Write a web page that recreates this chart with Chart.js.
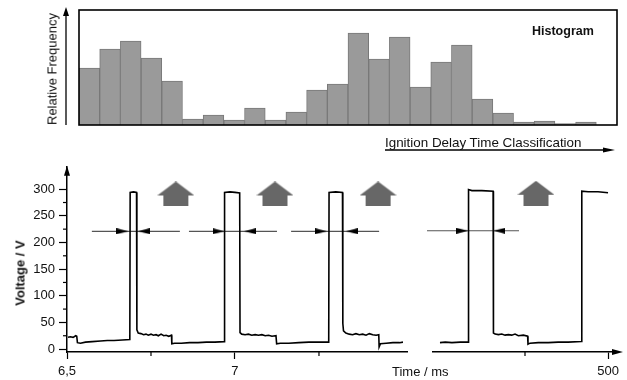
<!DOCTYPE html>
<html lang="en">
<head>
<meta charset="UTF-8">
<title>Ignition Delay Time Classification</title>
<script src="https://cdn.jsdelivr.net/npm/chart.js"></script>
<style>
  body { margin: 0; background: #fff; font-family: "Liberation Sans", Arial, sans-serif; }
  .wrap { position: relative; width: 627px; height: 380px; overflow: hidden; }
  .box { position: absolute; }
  .lbl { position: absolute; font-size: 13px; color: #111; white-space: nowrap; line-height: 1; }
  .rot { transform: translate(-50%, -50%) rotate(-90deg); }
</style>
</head>
<body>
<div class="wrap">
  <div class="box" style="left:0;top:0"><canvas id="hist" width="627" height="160"></canvas></div>
  <div class="box" style="left:0;top:155px"><canvas id="left" width="420" height="225"></canvas></div>
  <div class="box" style="left:420px;top:155px"><canvas id="right" width="207" height="225"></canvas></div>

  <div class="lbl rot" style="left:52px;top:69px">Relative Frequency</div>
  <div class="lbl" style="left:532px;top:25px;font-weight:bold;font-size:12.5px">Histogram</div>
  <div class="lbl" style="left:385px;top:136px;font-size:13.4px">Ignition Delay Time Classification</div>
  <div class="lbl rot" style="left:20px;top:273px;font-weight:bold">Voltage / V</div>
  <div class="lbl" style="left:392px;top:365px">Time / ms</div>
</div>

<script>
  // histogram (relative frequency per class, arbitrary units)
  const relFreq = [57, 76, 84, 67, 44, 6, 10, 5, 17, 5, 13, 35, 41, 92, 66, 88, 38, 63, 80, 26, 12, 3, 4, 1.5, 3, 0];
  const histClasses = relFreq.map((_, i) => i + 1);

  // voltage trace, left part of the broken time axis (ms, V)
  const leftTime = [6.503, 6.510, 6.518, 6.526, 6.529, 6.531, 6.540, 6.555, 6.575, 6.600, 6.620, 6.640, 6.665, 6.687,
    6.688, 6.698, 6.707, 6.708, 6.712, 6.720, 6.728, 6.735, 6.742, 6.750, 6.757, 6.765, 6.772, 6.780, 6.788, 6.795,
    6.803, 6.811, 6.812, 6.820, 6.840, 6.865, 6.890, 6.915, 6.940, 6.968, 6.969, 6.985, 7.000, 7.014, 7.015, 7.020,
    7.030, 7.040, 7.050, 7.060, 7.070, 7.080, 7.090, 7.100, 7.110, 7.122, 7.124, 7.135, 7.160, 7.190, 7.220, 7.250,
    7.279, 7.280, 7.300, 7.320, 7.321, 7.323, 7.330, 7.340, 7.350, 7.360, 7.370, 7.380, 7.390, 7.400, 7.410, 7.420,
    7.428, 7.429, 7.433, 7.450, 7.470, 7.490, 7.500];
  const leftVolt = [22, 23, 22, 25, 24, 12, 11, 13, 14, 15, 16, 16, 17, 18,
    294, 295, 294, 36, 30, 29, 27, 28, 26, 28, 26, 27, 25, 28, 25, 26,
    24, 26, 10, 11, 11, 12, 12, 13, 13, 14, 294, 295, 294, 293, 31, 28,
    27, 28, 26, 27, 26, 27, 25, 26, 24, 25, 10, 11, 11, 12, 13, 13,
    13, 294, 295, 294, 48, 34, 30, 28, 27, 29, 27, 28, 26, 29, 27, 26,
    27, 4, 10, 11, 12, 12, 13];

  // voltage trace, right part (around 500 ms)
  const rightTime = [499.494, 499.510, 499.530, 499.555, 499.579, 499.580, 499.590, 499.620, 499.654, 499.655,
    499.660, 499.670, 499.680, 499.690, 499.700, 499.710, 499.720, 499.730, 499.745, 499.758, 499.759, 499.765,
    499.790, 499.820, 499.850, 499.880, 499.920, 499.921, 499.940, 499.970, 500.000];
  const rightVolt = [12, 13, 12, 13, 13, 298, 296, 296, 295, 30,
    28, 27, 28, 26, 27, 26, 28, 25, 26, 24, 9, 11,
    12, 12, 13, 13, 14, 295, 294, 294, 292];

  // delay markers: line from/to, inward arrowheads at the pulse edges
  const markLevel = 221;
  const markFrom = [6.574, 6.863, 7.167];
  const markTo = [6.836, 7.125, 7.429];
  const headIn = [6.665, 6.951, 7.256];
  const headOut = [6.729, 7.045, 7.348];
  const markFromR = [499.455], markToR = [499.732], headInR = [499.561], headOutR = [499.673];

  // classification arrows
  const upLevel = 291;
  const upLeft = [6.824, 7.119, 7.426];
  const upRight = [499.783];

  const yTicks = [0, 50, 100, 150, 200, 250, 300];
  const yMinor = [25, 75, 125, 175, 225, 275];
  const xTicksLeft = [6.5, 7], xLabelsLeft = ['6,5', '7'], xMinorLeft = [6.75, 7.25];
  const xTicksRight = [500], xLabelsRight = ['500'], xMinorRight = [499.75];

  Chart.defaults.font.family = "'Liberation Sans', Arial, sans-serif";
  Chart.defaults.font.size = 13;
  Chart.defaults.color = '#111';

  function tri(ctx, x, y, dir, len, half) {
    ctx.beginPath();
    if (dir === 'up') { ctx.moveTo(x, y); ctx.lineTo(x - half, y + len); ctx.lineTo(x + half, y + len); }
    else { ctx.moveTo(x, y); ctx.lineTo(x - len, y - half); ctx.lineTo(x - len, y + half); }
    ctx.closePath();
    ctx.fill();
  }

  // small arrowhead image (points right)
  const headImg = document.createElement('canvas');
  headImg.width = 12; headImg.height = 6;
  (function () {
    const c = headImg.getContext('2d');
    c.fillStyle = '#000';
    c.beginPath(); c.moveTo(0, 0); c.lineTo(12, 3); c.lineTo(0, 6); c.closePath(); c.fill();
  })();

  // block arrow pointing up
  const blockImg = document.createElement('canvas');
  blockImg.width = 37; blockImg.height = 25;
  (function () {
    const c = blockImg.getContext('2d');
    c.fillStyle = '#676767';
    c.beginPath();
    c.moveTo(0, 14); c.lineTo(18.5, 0); c.lineTo(37, 14); c.lineTo(31, 14); c.lineTo(31, 25);
    c.lineTo(6, 25); c.lineTo(6, 14); c.closePath(); c.fill();
  })();

  const histFrame = {
    id: 'histFrame',
    afterDatasetsDraw(chart) {
      const { ctx, chartArea: a } = chart;
      ctx.save();
      ctx.strokeStyle = '#000'; ctx.fillStyle = '#000';
      ctx.lineWidth = 1.6;
      ctx.strokeRect(a.left, a.top, a.width, a.height);
      ctx.lineWidth = 1.3;
      const ax = a.left - 13;
      ctx.beginPath(); ctx.moveTo(ax, a.bottom); ctx.lineTo(ax, a.top + 2); ctx.stroke();
      tri(ctx, ax, a.top - 3, 'up', 9, 3);
      ctx.beginPath(); ctx.moveTo(385, 150); ctx.lineTo(606, 150); ctx.stroke();
      tri(ctx, 615, 150, 'right', 12, 2.5);
      ctx.restore();
    }
  };

  const axisExtras = {
    id: 'axisExtras',
    afterDraw(chart, args, opts) {
      const { ctx, chartArea: a, scales } = chart;
      ctx.save();
      ctx.strokeStyle = '#000'; ctx.fillStyle = '#000'; ctx.lineWidth = 1.2;
      (opts.xMinor || []).forEach(v => {
        const px = scales.x.getPixelForValue(v);
        ctx.beginPath(); ctx.moveTo(px, a.bottom); ctx.lineTo(px, a.bottom + 4); ctx.stroke();
      });
      (opts.yMinor || []).forEach(v => {
        const py = scales.y.getPixelForValue(v);
        ctx.beginPath(); ctx.moveTo(a.left - 4, py); ctx.lineTo(a.left, py); ctx.stroke();
      });
      if (opts.yArrow) tri(ctx, a.left, a.top - 1, 'up', 10, 3);
      if (opts.xArrow) tri(ctx, a.right + 7, a.bottom, 'right', 11, 3);
      ctx.restore();
    }
  };

  new Chart(document.getElementById('hist'), {
    type: 'bar',
    data: {
      labels: histClasses,
      datasets: [{
        data: relFreq,
        backgroundColor: '#9a9a9a',
        borderColor: '#787878',
        borderWidth: 1,
        categoryPercentage: 1,
        barPercentage: 1
      }]
    },
    options: {
      responsive: false,
      animation: false,
      layout: { padding: { left: 79, right: 10, top: 10, bottom: 35 } },
      plugins: { legend: { display: false }, tooltip: { enabled: false } },
      scales: {
        x: { display: false },
        y: { display: false, min: 0, max: 115 }
      }
    },
    plugins: [histFrame]
  });

  function markerSets(from, to, hin, hout) {
    return from.map((f, i) => ({
      data: [{ x: f, y: markLevel }, { x: hin[i], y: markLevel }, { x: hout[i], y: markLevel }, { x: to[i], y: markLevel }],
      borderColor: '#555',
      borderWidth: 1.2,
      pointStyle: headImg,
      pointRadius: [0, 5, 5, 0],
      pointRotation: [0, 0, 180, 0],
      clip: false,
      order: 2
    }));
  }

  function traceChart(id, time, volt, marks, ups, xOpts, extras, padding, showY) {
    return new Chart(document.getElementById(id), {
      type: 'line',
      data: {
        datasets: [
          {
            data: time.map((t, i) => ({ x: t, y: volt[i] })),
            borderColor: '#000',
            borderWidth: 1.6,
            pointRadius: 0,
            tension: 0,
            order: 1
          },
          ...marks,
          {
            data: ups.map(x => ({ x: x, y: upLevel })),
            showLine: false,
            pointStyle: blockImg,
            pointRadius: 10,
            order: 3
          }
        ]
      },
      options: {
        responsive: false,
        animation: false,
        layout: { padding: padding },
        plugins: { legend: { display: false }, tooltip: { enabled: false }, axisExtras: extras },
        scales: {
          x: {
            type: 'linear',
            min: xOpts.min,
            max: xOpts.max,
            afterBuildTicks: s => { s.ticks = xOpts.ticks.map(v => ({ value: v })); },
            afterFit: s => { s.height = 28; },
            ticks: {
              autoSkip: false, maxRotation: 0, padding: 5,
              callback: (v, i) => xOpts.labels[i]
            },
            grid: { drawOnChartArea: false, tickLength: 7, tickColor: '#000', tickWidth: 1.2 },
            border: { color: '#000', width: 1.5 }
          },
          y: {
            display: showY,
            min: -5.5,
            max: 342,
            afterBuildTicks: s => { s.ticks = yTicks.map(v => ({ value: v })); },
            afterFit: s => { s.width = showY ? 67 : 0; },
            ticks: { padding: 4 },
            grid: { drawOnChartArea: false, tickLength: 8, tickColor: '#000', tickWidth: 1.2 },
            border: { color: '#000', width: 1.5 }
          }
        }
      },
      plugins: [axisExtras]
    });
  }

  traceChart('left', leftTime, leftVolt, markerSets(markFrom, markTo, headIn, headOut), upLeft,
    { min: 6.5, max: 7.512, ticks: xTicksLeft, labels: xLabelsLeft },
    { xMinor: xMinorLeft, yMinor: yMinor, yArrow: true },
    { top: 8, right: 13, left: 0, bottom: 0 }, true);

  traceChart('right', rightTime, rightVolt, markerSets(markFromR, markToR, headInR, headOutR), upRight,
    { min: 499.473, max: 500.024, ticks: xTicksRight, labels: xLabelsRight },
    { xMinor: xMinorRight, xArrow: true },
    { top: 8, right: 9, left: 13, bottom: 0 }, false);
</script>
</body>
</html>
